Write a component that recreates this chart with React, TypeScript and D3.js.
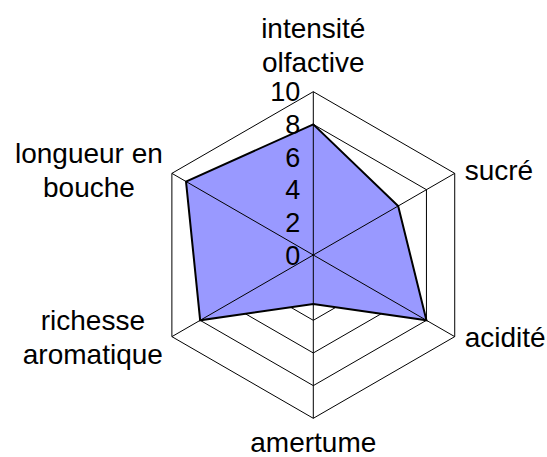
import { useRef, useEffect } from "react";
import * as d3 from "d3";

// axis labels (split into lines like the original) and scores out of 10
const axes = [
  ["intensité", "olfactive"],
  ["sucré"],
  ["acidité"],
  ["amertume"],
  ["richesse", "aromatique"],
  ["longueur en", "bouche"],
];
const scores = [8, 6, 8, 3, 8, 9];
const ringValues = [2, 4, 6, 8, 10];
const tickValues = [0, 2, 4, 6, 8, 10];

export default function App() {
  const svgRef = useRef<SVGSVGElement>(null);

  useEffect(() => {
    if (!svgRef.current) return;
    const width = 547;
    const height = 457;
    const cx = 313.3;
    const cy = 255;
    const R = 163.3;
    const font = "'Liberation Sans', Arial, sans-serif";
    const fontSize = 28;
    const lineH = 34;

    const svg = d3.select(svgRef.current);
    svg.attr("viewBox", `0 0 ${width} ${height}`);
    svg.selectAll("*").remove();

    const r = d3.scaleLinear().domain([0, 10]).range([0, R]);
    const n = axes.length;
    const angle = (i: number) => (i * 2 * Math.PI) / n;
    const pt = (i: number, v: number): [number, number] => [
      cx + r(v) * Math.sin(angle(i)),
      cy - r(v) * Math.cos(angle(i)),
    ];

    const line = d3.line().curve(d3.curveLinearClosed);

    // grid rings (behind the filled area)
    svg
      .append("g")
      .selectAll("path")
      .data(ringValues)
      .enter()
      .append("path")
      .attr("d", (v) => line(d3.range(n).map((i) => pt(i, v))))
      .attr("fill", "none")
      .attr("stroke", "#000")
      .attr("stroke-width", 1);

    // series area
    svg
      .append("path")
      .attr("d", line(scores.map((v, i) => pt(i, v))))
      .attr("fill", "#9999ff")
      .attr("stroke", "none");

    // spokes on top of the fill
    svg
      .append("g")
      .selectAll("line")
      .data(d3.range(n))
      .enter()
      .append("line")
      .attr("x1", cx)
      .attr("y1", cy)
      .attr("x2", (i) => pt(i, 10)[0])
      .attr("y2", (i) => pt(i, 10)[1])
      .attr("stroke", "#000")
      .attr("stroke-width", 1);

    // series outline
    svg
      .append("path")
      .attr("d", line(scores.map((v, i) => pt(i, v))))
      .attr("fill", "none")
      .attr("stroke", "#000")
      .attr("stroke-width", 2)
      .attr("stroke-linejoin", "miter");

    // value ticks along the first axis
    svg
      .append("g")
      .selectAll("text")
      .data(tickValues)
      .enter()
      .append("text")
      .attr("x", cx - 13)
      .attr("y", (v) => cy - r(v) + 9.5)
      .attr("text-anchor", "end")
      .attr("font-family", font)
      .attr("font-size", 27)
      .attr("fill", "#000")
      .text((v) => v);

    // axis labels
    axes.forEach((lines, i) => {
      const [vx, vy] = pt(i, 10);
      const a = angle(i);
      const sin = Math.sin(a);
      const cos = Math.cos(a);
      const g = svg
        .append("text")
        .attr("font-family", font)
        .attr("font-size", fontSize)
        .attr("fill", "#000");

      let x = vx;
      let firstBaseline: number;
      let anchor = "middle";
      if (Math.abs(sin) < 0.01) {
        if (cos > 0) firstBaseline = vy - 20 - (lines.length - 1) * lineH;
        else firstBaseline = vy + 34;
      } else {
        firstBaseline = vy - ((lines.length - 1) * lineH) / 2 + 8.5 - 4 * cos;
        if (sin > 0) {
          anchor = "start";
          x = vx + 10;
        }
      }

      const spans = g
        .selectAll("tspan")
        .data(lines)
        .enter()
        .append("tspan")
        .attr("y", (_, k) => firstBaseline + k * lineH)
        .text((d) => d);

      if (sin < -0.01) {
        // center the block, right edge close to the vertex
        let maxW = 0;
        spans.each(function () {
          maxW = Math.max(maxW, (this as SVGTSpanElement).getComputedTextLength());
        });
        x = vx - 9 - maxW / 2;
      }
      spans.attr("x", x);
      g.attr("text-anchor", anchor);
    });
  }, []);

  return (
    <svg
      ref={svgRef}
      width={547}
      height={457}
      style={{ position: "absolute", left: 0, top: 0, background: "#fff" }}
    />
  );
}
